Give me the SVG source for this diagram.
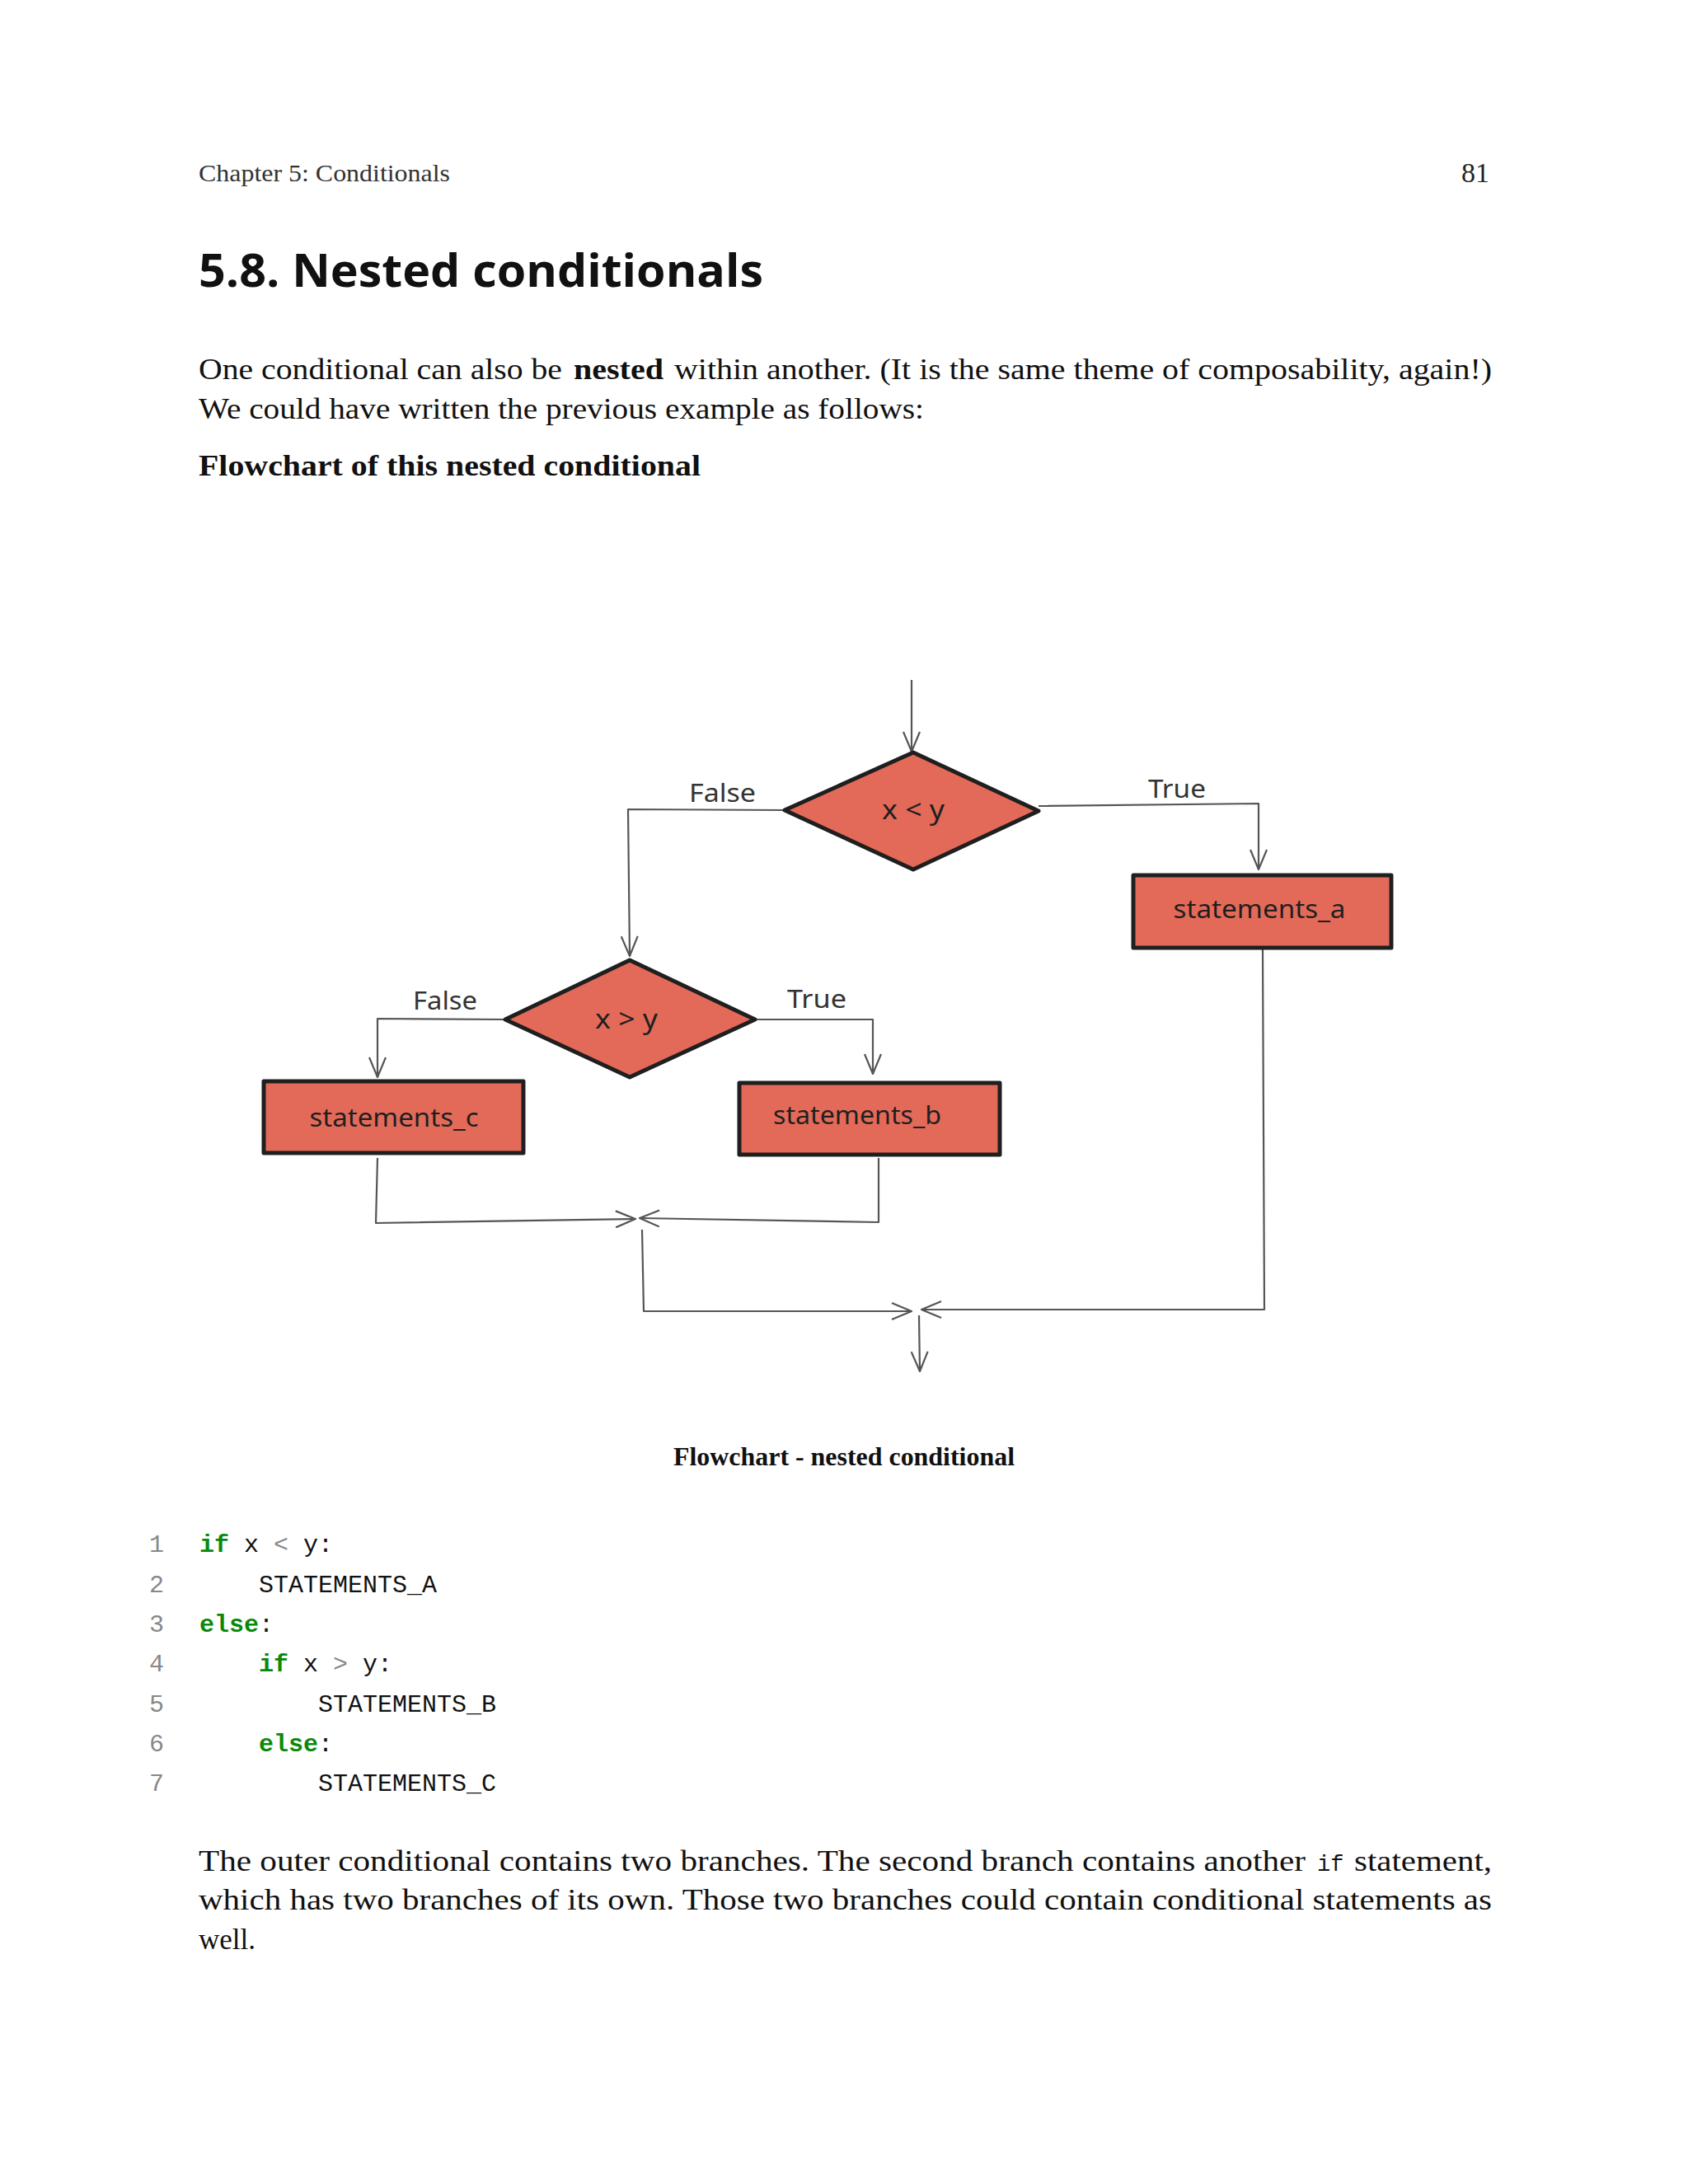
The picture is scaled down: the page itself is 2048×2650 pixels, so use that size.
<svg xmlns="http://www.w3.org/2000/svg" width="2048" height="2650" viewBox="0 0 2048 2650">
<defs>
<style>
.serif{font-family:"Liberation Serif","DejaVu Serif",serif;fill:#111}
.hdr{font-size:30px;fill:#333}
.body{font-size:35px}
.b{font-weight:bold}
.title{font-family:"Open Sans","Noto Sans",sans-serif;font-weight:bold;font-size:56px;fill:#111}
.mono{font-family:"Liberation Mono","DejaVu Sans Mono",monospace;font-size:30px;fill:#111}
.ln{fill:#888}
.kw{fill:#0a8a0a;font-weight:bold}
.op{fill:#888}
.node{fill:#e36a59;stroke:#1f1f1f;stroke-width:5;stroke-linejoin:round}
.nt{font-family:"Noto Sans","Liberation Sans",sans-serif;font-size:30px;fill:#1f1f1f;text-anchor:middle}
.lbl{font-family:"Noto Sans","Liberation Sans",sans-serif;font-size:31px;fill:#333}
.conn{fill:none;stroke:#555;stroke-width:2.2;stroke-linejoin:round}
</style>
<marker id="arr" viewBox="0 0 26 22" refX="25" refY="11" markerWidth="26" markerHeight="22" markerUnits="userSpaceOnUse" orient="auto">
<path d="M1,1 L25,11 L1,21" fill="none" stroke="#555" stroke-width="2.2"/>
</marker>
</defs>
<rect width="2048" height="2650" fill="#ffffff"/>

<!-- page header -->
<text class="serif hdr" x="241" y="220" textLength="305" lengthAdjust="spacingAndGlyphs">Chapter 5: Conditionals</text>
<text class="serif" style="font-size:34px;fill:#222" x="1807" y="221" text-anchor="end">81</text>

<text class="title" x="241" y="348" textLength="685" lengthAdjust="spacingAndGlyphs">5.8. Nested conditionals</text>

<text class="serif body" x="241" y="460" textLength="441" lengthAdjust="spacingAndGlyphs">One conditional can also be</text>
<text class="serif body b" x="696" y="460" textLength="109" lengthAdjust="spacingAndGlyphs">nested</text>
<text class="serif body" x="818" y="460" textLength="992" lengthAdjust="spacingAndGlyphs">within another. (It is the same theme of composability, again!)</text>
<text class="serif body" x="241" y="508" textLength="880" lengthAdjust="spacingAndGlyphs">We could have written the previous example as follows:</text>
<text class="serif body b" x="241" y="577" textLength="609" lengthAdjust="spacingAndGlyphs">Flowchart of this nested conditional</text>

<!-- connectors -->
<g id="connectors">
<path class="conn" d="M1106,825 L1106,912" marker-end="url(#arr)"/>
<path class="conn" d="M952,983 L762,982 L764,1160" marker-end="url(#arr)"/>
<path class="conn" d="M1260,978 L1527,975 L1527,1055" marker-end="url(#arr)"/>
<path class="conn" d="M613,1237 L458,1236 L458,1307" marker-end="url(#arr)"/>
<path class="conn" d="M918,1237 L1059,1237 L1059,1303" marker-end="url(#arr)"/>
<path class="conn" d="M458,1405 L456,1484 L771,1479" marker-end="url(#arr)"/>
<path class="conn" d="M1066,1405 L1066,1483 L776,1478" marker-end="url(#arr)"/>
<path class="conn" d="M779,1492 L781,1591 L1106,1591" marker-end="url(#arr)"/>
<path class="conn" d="M1532,1152 L1534,1589 L1118,1589" marker-end="url(#arr)"/>
<path class="conn" d="M1115,1596 L1116,1664" marker-end="url(#arr)"/>
<text class="lbl" x="836" y="973" textLength="81" lengthAdjust="spacingAndGlyphs">False</text>
<text class="lbl" x="1393" y="968" textLength="70" lengthAdjust="spacingAndGlyphs">True</text>
<text class="lbl" x="501" y="1225" textLength="78" lengthAdjust="spacingAndGlyphs">False</text>
<text class="lbl" x="955" y="1223" textLength="72" lengthAdjust="spacingAndGlyphs">True</text>
</g>

<!-- nodes -->
<g id="cond1">
<polygon class="node" points="1108,913 1260,984 1108,1055 952,983"/>
<text class="nt" style="font-size:33px" x="1108" y="994" textLength="76" lengthAdjust="spacingAndGlyphs">x &lt; y</text>
</g>
<g id="stmt_a">
<rect class="node" x="1375" y="1062" width="313" height="88"/>
<text class="nt" x="1528" y="1114" textLength="209" lengthAdjust="spacingAndGlyphs">statements_a</text>
</g>
<g id="cond2">
<polygon class="node" points="764,1165 916,1237 764,1307 613,1237"/>
<text class="nt" style="font-size:33px" x="760" y="1248" textLength="76" lengthAdjust="spacingAndGlyphs">x &gt; y</text>
</g>
<g id="stmt_c">
<rect class="node" x="320" y="1312" width="315" height="87"/>
<text class="nt" x="478" y="1367" textLength="205" lengthAdjust="spacingAndGlyphs">statements_c</text>
</g>
<g id="stmt_b">
<rect class="node" x="897" y="1314" width="316" height="87"/>
<text class="nt" x="1040" y="1364" textLength="204" lengthAdjust="spacingAndGlyphs">statements_b</text>
</g>

<text class="serif b" style="font-size:31px" x="817" y="1778" textLength="414" lengthAdjust="spacingAndGlyphs">Flowchart - nested conditional</text>

<!-- code listing -->
<g class="mono">
<text class="mono ln" x="199" y="1883" text-anchor="end">1</text>
<text class="mono ln" x="199" y="1932" text-anchor="end">2</text>
<text class="mono ln" x="199" y="1980" text-anchor="end">3</text>
<text class="mono ln" x="199" y="2028" text-anchor="end">4</text>
<text class="mono ln" x="199" y="2077" text-anchor="end">5</text>
<text class="mono ln" x="199" y="2125" text-anchor="end">6</text>
<text class="mono ln" x="199" y="2173" text-anchor="end">7</text>
<text class="mono" x="242" y="1883"><tspan class="kw">if</tspan> x <tspan class="op">&lt;</tspan> y:</text>
<text class="mono" x="314" y="1932">STATEMENTS_A</text>
<text class="mono" x="242" y="1980"><tspan class="kw">else</tspan>:</text>
<text class="mono" x="314" y="2028"><tspan class="kw">if</tspan> x <tspan class="op">&gt;</tspan> y:</text>
<text class="mono" x="386" y="2077">STATEMENTS_B</text>
<text class="mono" x="314" y="2125"><tspan class="kw">else</tspan>:</text>
<text class="mono" x="386" y="2173">STATEMENTS_C</text>
</g>

<text class="serif body" x="241" y="2270" textLength="1343" lengthAdjust="spacingAndGlyphs">The outer conditional contains two branches. The second branch contains another</text>
<text class="mono" style="font-size:27px" x="1598" y="2270">if</text>
<text class="serif body" x="1643" y="2270" textLength="167" lengthAdjust="spacingAndGlyphs">statement,</text>
<text class="serif body" x="241" y="2317" textLength="1569" lengthAdjust="spacingAndGlyphs">which has two branches of its own. Those two branches could contain conditional statements as</text>
<text class="serif body" x="241" y="2365">well.</text>
</svg>
